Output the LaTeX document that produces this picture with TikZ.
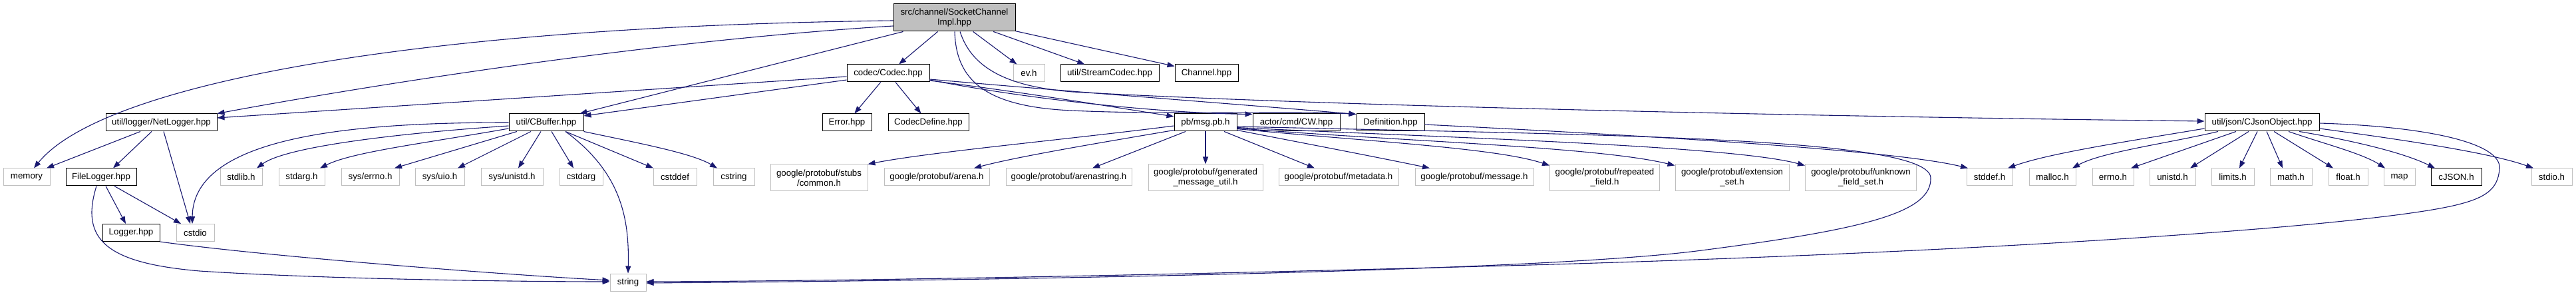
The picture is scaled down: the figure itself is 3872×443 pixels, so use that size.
\documentclass[tikz,border=0pt]{standalone}
\usepackage{fontspec}
\setmainfont{Liberation Sans}
\usetikzlibrary{arrows.meta}
\definecolor{edgec}{HTML}{191970}
\definecolor{grayb}{HTML}{BFBFBF}
\begin{document}
\begin{tikzpicture}[x=1pt,y=-1pt,
  box/.style={draw=black, line width=1pt, rectangle, inner sep=0pt, minimum height=26pt,
    font=\fontsize{13.3}{15}\selectfont, align=center},
  gbox/.style={box, draw=grayb},
  tall/.style={minimum height=40pt},
  edge/.style={draw=edgec, line width=1.1pt, -{Triangle[length=11pt,width=8pt]}},
]
\fill[white] (0,0) rectangle (3872,443);
\useasboundingbox (0,0) rectangle (3872,443);

% row 1
\node[box, fill=grayb, minimum width=183pt, minimum height=41pt] (root) at (1434.5,26.5) {src/channel/SocketChannel\\Impl.hpp};
% row 2
\node[box, minimum width=124pt] (codec) at (1335,110) {codec/Codec.hpp};
\node[gbox, minimum width=47pt] (evh) at (1546.5,110) {ev.h};
\node[box, minimum width=148pt] (streamcodec) at (1668,110) {util/StreamCodec.hpp};
\node[box, minimum width=95pt] (channel) at (1813.5,110) {Channel.hpp};
% row 3
\node[box, minimum width=167pt] (netlogger) at (242.5,184) {util/logger/NetLogger.hpp};
\node[box, minimum width=112pt] (cbuffer) at (821,184) {util/CBuffer.hpp};
\node[box, minimum width=74pt] (error) at (1273,184) {Error.hpp};
\node[box, minimum width=121pt] (codecdefine) at (1395.5,184) {CodecDefine.hpp};
\node[box, minimum width=94pt] (msgpb) at (1812,184) {pb/msg.pb.h};
\node[box, minimum width=131pt] (cw) at (1948.5,184) {actor/cmd/CW.hpp};
\node[box, minimum width=102pt] (definition) at (2090,184) {Definition.hpp};
\node[box, minimum width=172pt] (cjson) at (3400,184) {util/json/CJsonObject.hpp};
% row 4
\node[gbox, minimum width=70pt] (memory) at (40,266) {memory};
\node[box, minimum width=106pt] (filelogger) at (152,266) {FileLogger.hpp};
\node[gbox, minimum width=63pt] (stdlib) at (362.5,266) {stdlib.h};
\node[gbox, minimum width=69pt] (stdarg) at (453.5,266) {stdarg.h};
\node[gbox, minimum width=87pt] (syserrno) at (556.5,266) {sys/errno.h};
\node[gbox, minimum width=74pt] (sysuio) at (661,266) {sys/uio.h};
\node[gbox, minimum width=93pt] (sysunistd) at (769.5,266) {sys/unistd.h};
\node[gbox, minimum width=65pt] (cstdarg) at (873.5,266) {cstdarg};
\node[gbox, minimum width=65pt] (cstddef) at (1014.5,266) {cstddef};
\node[gbox, minimum width=62pt] (cstring) at (1103,266) {cstring};
\node[gbox, tall, minimum width=146pt] (gpcommon) at (1231,267) {google/protobuf/stubs\\/common.h};
\node[gbox, minimum width=158pt] (gparena) at (1408,266) {google/protobuf/arena.h};
\node[gbox, minimum width=189pt] (gparenastring) at (1606.5,266) {google/protobuf/arenastring.h};
\node[gbox, tall, minimum width=172pt] (gpgenerated) at (1812,267) {google/protobuf/generated\\\_message\_util.h};
\node[gbox, minimum width=180pt] (gpmetadata) at (2012,266) {google/protobuf/metadata.h};
\node[gbox, minimum width=178pt] (gpmessage) at (2216,266) {google/protobuf/message.h};
\node[gbox, tall, minimum width=165pt] (gprepeated) at (2412,267) {google/protobuf/repeated\\\_field.h};
\node[gbox, tall, minimum width=171pt] (gpextension) at (2603.5,267) {google/protobuf/extension\\\_set.h};
\node[gbox, tall, minimum width=167pt] (gpunknown) at (2797,267) {google/protobuf/unknown\\\_field\_set.h};
\node[gbox, minimum width=69pt] (stddefh) at (2990.5,266) {stddef.h};
\node[gbox, minimum width=70pt] (malloch) at (3085,266) {malloc.h};
\node[gbox, minimum width=62pt] (errnoh) at (3176,266) {errno.h};
\node[gbox, minimum width=69pt] (unistdh) at (3265.5,266) {unistd.h};
\node[gbox, minimum width=64pt] (limitsh) at (3356,266) {limits.h};
\node[gbox, minimum width=63pt] (mathh) at (3443.5,266) {math.h};
\node[gbox, minimum width=59pt] (floath) at (3529.5,266) {float.h};
\node[gbox, minimum width=47pt] (maph) at (3606.5,266) {map};
\node[box, minimum width=76pt] (cjsonh) at (3692,266) {cJSON.h};
\node[gbox, minimum width=61pt] (stdioh) at (3835.5,266) {stdio.h};
% row 5
\node[box, minimum width=86pt] (logger) at (197,349.5) {Logger.hpp};
\node[gbox, minimum width=57pt] (cstdio) at (293.5,349.5) {cstdio};
% row 6
\node[gbox, minimum width=54pt] (string) at (944,424) {string};

% ---- edges from root
\draw[edge] ([yshift=-4.5pt]root.west) .. controls (600,40) and (150,130) .. ([xshift=11pt]memory.north);
\draw[edge] ([yshift=-12.5pt]root.west) .. controls (1000,60) and (600,120) .. (netlogger.north east);
\draw[edge] ([xshift=15pt]root.south west) -- ([xshift=-6pt]cbuffer.north east);
\draw[edge] (root) -- (codec);
\draw[edge] (root) -- (evh);
\draw[edge] (root) -- (streamcodec);
\draw[edge] (root) -- (channel);
\draw[edge] ([xshift=0.5pt]root.south) .. controls (1437,120) and (1480,160) .. (1610,166)
  .. controls (1760,173) and (1950,166) .. ([yshift=-1pt]definition.north west);
\draw[edge] ([xshift=8.5pt]root.south) .. controls (1460,100) and (1510,130) .. (1613,138)
  .. controls (2000,160) and (2800,176) .. ([yshift=2pt]cjson.west);

% ---- edges from codec
\draw[edge] ([yshift=-5pt]codec.west) -- ([yshift=7pt]netlogger.east);
\draw[edge] ([yshift=-10pt]codec.west) -- ([yshift=10pt]cbuffer.east);
\draw[edge] (codec) -- (error);
\draw[edge] (codec) -- (codecdefine);
\draw[edge] ([yshift=-11pt]codec.east) .. controls (1550,140) and (1700,165) .. ([yshift=9pt]msgpb.west);
\draw[edge] ([yshift=-10pt]codec.east) .. controls (1550,150) and (1750,170) .. ([yshift=-1pt]cw.north west);
\draw[edge] ([yshift=-9pt]codec.east) .. controls (1600,137) and (1880,158) .. ([yshift=-1pt]definition.north west);

% ---- edges from NetLogger
\draw[edge] ([xshift=-31.5pt]netlogger.south) -- ([xshift=30pt]memory.north);
\draw[edge] ([xshift=-14.5pt]netlogger.south) -- ([xshift=18pt]filelogger.north);
\draw[edge] ([xshift=3.5pt]netlogger.south) -- ([xshift=-7.5pt]cstdio.north);

% ---- edges from FileLogger / Logger
\draw[edge] ([xshift=7pt]filelogger.south) -- ([xshift=-8pt]logger.north);
\draw[edge] ([xshift=20pt]filelogger.south) -- ([xshift=-21.5pt]cstdio.north);
\draw[edge] ([xshift=-7pt]filelogger.south) .. controls (120,360) and (160,395) .. (300,407)
  .. controls (500,420) and (800,423) .. ([yshift=1pt]string.west);
\draw[edge] (logger.south east) .. controls (400,385) and (750,412) .. ([yshift=3pt]string.west);

% ---- edges from CBuffer
\draw[edge] (cbuffer.west) .. controls (550,184) and (290,200) .. ([xshift=-4.5pt]cstdio.north);
\draw[edge] ([yshift=-5pt]cbuffer.west) .. controls (600,200) and (430,220) .. ([xshift=23.5pt]stdlib.north);
\draw[edge] ([yshift=-9pt]cbuffer.west) .. controls (640,215) and (530,228) .. ([xshift=27.5pt]stdarg.north);
\draw[edge] ([xshift=-44pt]cbuffer.south) -- ([xshift=36.5pt]syserrno.north);
\draw[edge] ([xshift=-23pt]cbuffer.south) -- ([xshift=27pt]sysuio.north);
\draw[edge] ([xshift=-8pt]cbuffer.south) -- ([xshift=9.5pt]sysunistd.north);
\draw[edge] ([xshift=8pt]cbuffer.south) -- ([xshift=-11.5pt]cstdarg.north);
\draw[edge] ([xshift=29pt]cbuffer.south) -- ([xshift=-32.5pt]cstddef.north);
\draw[edge] (cbuffer.south east) .. controls (960,215) and (1040,230) .. ([xshift=-25pt]cstring.north);
\draw[edge] ([xshift=29pt]cbuffer.south) .. controls (935,260) and (946,330) .. (string.north);

% ---- edges from msg.pb.h
\draw[edge] ([yshift=-5pt]msgpb.west) .. controls (1600,210) and (1400,228) .. (gpcommon.north east);
\draw[edge] ([yshift=2pt]msgpb.south west) .. controls (1650,215) and (1530,235) .. ([xshift=56pt]gparena.north);
\draw[edge] ([xshift=-30pt]msgpb.south) -- ([xshift=35.5pt]gparenastring.north);
\draw[edge] (msgpb.south) -- (gpgenerated.north);
\draw[edge] ([xshift=28pt]msgpb.south) -- ([xshift=-36pt]gpmetadata.north);
\draw[edge] ([yshift=2pt]msgpb.south east) .. controls (1960,215) and (2080,238) .. ([xshift=-67pt]gpmessage.north);
\draw[edge] ([yshift=4pt]msgpb.south east) .. controls (2050,212) and (2250,222) .. ([yshift=-2pt]gprepeated.north west);
\draw[edge] ([yshift=5pt]msgpb.south east) .. controls (2100,212) and (2400,220) .. ([yshift=-2pt]gpextension.north west);
\draw[edge] ([yshift=6pt]msgpb.south east) .. controls (2150,206) and (2600,218) .. ([yshift=-2pt]gpunknown.north west);
\draw[edge] ([yshift=-6pt]msgpb.east) .. controls (2400,203) and (2900,205) .. (2902,267)
  .. controls (2904,320) and (2800,345) .. (2550,377)
  .. controls (2300,408) and (1500,421) .. ([yshift=-1pt]string.east);

% ---- Definition
\draw[edge] ([yshift=-3pt]definition.east) .. controls (2500,205) and (2850,226) .. ([xshift=-32.5pt]stddefh.north);

% ---- edges from CJsonObject
\draw[edge] ([yshift=-9pt]cjson.west) .. controls (3200,212) and (3080,230) .. ([xshift=27.5pt]stddefh.north);
\draw[edge] ([xshift=-66pt]cjson.south) .. controls (3260,215) and (3160,228) .. ([xshift=30pt]malloch.north);
\draw[edge] ([xshift=-39pt]cjson.south) -- ([xshift=27pt]errnoh.north);
\draw[edge] ([xshift=-20pt]cjson.south) -- ([xshift=26.5pt]unistdh.north);
\draw[edge] ([xshift=-7pt]cjson.south) -- ([xshift=10pt]limitsh.north);
\draw[edge] ([xshift=7pt]cjson.south) -- ([xshift=-12.5pt]mathh.north);
\draw[edge] ([xshift=18pt]cjson.south) -- ([xshift=-22.5pt]floath.north);
\draw[edge] ([xshift=40pt]cjson.south) .. controls (3490,215) and (3550,230) .. ([xshift=-21.5pt]maph.north);
\draw[edge] ([xshift=56pt]cjson.south) .. controls (3530,210) and (3610,228) .. ([xshift=-32pt]cjsonh.north);
\draw[edge] ([yshift=-9pt]cjson.east) .. controls (3650,215) and (3750,232) .. ([xshift=-27.5pt]stdioh.north);
\draw[edge] ([yshift=-1pt]cjson.east) .. controls (3650,190) and (3760,215) .. (3757,253)
  .. controls (3755,285) and (3735,298) .. (3687,309)
  .. controls (3550,340) and (3000,378) .. (2300,398)
  .. controls (1800,412) and (1300,422) .. ([yshift=1pt]string.east);
\end{tikzpicture}
\end{document}
